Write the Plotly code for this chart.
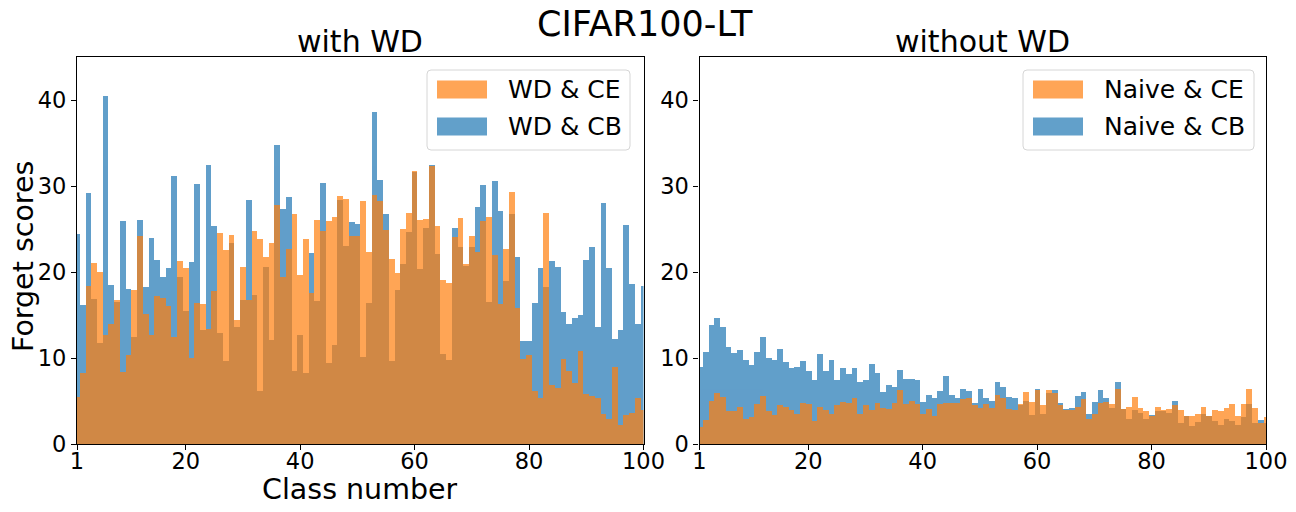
import plotly.graph_objects as go
from plotly.subplots import make_subplots

classes = list(range(1, 101))

wd_cb = [24.4, 16.2, 29.2, 16.9, 11.7, 40.5, 18.5, 16.5, 25.9, 18.0,
         12.4, 26.1, 18.2, 24.0, 21.4, 19.4, 20.5, 31.2, 19.4, 15.5,
         21.2, 30.2, 13.2, 32.4, 25.4, 12.9, 9.7, 23.4, 13.6, 16.8,
         28.4, 17.3, 6.2, 20.6, 12.1, 34.8, 27.3, 28.7, 8.5, 12.7,
         8.3, 22.2, 16.6, 30.4, 9.4, 11.5, 28.4, 23.0, 25.8, 25.6,
         10.1, 16.4, 38.6, 30.7, 26.8, 9.7, 17.9, 20.9, 24.7, 31.6,
         20.4, 25.1, 32.4, 22.1, 10.5, 9.8, 25.1, 22.9, 20.7, 22.9,
         27.6, 30.1, 16.5, 30.6, 27.1, 19.0, 26.8, 21.8, 12.0, 12.0,
         16.4, 20.5, 18.2, 21.3, 20.6, 15.4, 13.9, 14.7, 15.0, 21.4,
         22.9, 13.6, 28.0, 20.5, 12.2, 13.2, 25.5, 18.6, 13.9, 18.4]

wd_ce = [5.5, 8.3, 18.4, 21.1, 20.0, 12.7, 14.0, 16.8, 8.4, 10.4,
         17.9, 24.2, 15.1, 12.7, 17.2, 17.0, 16.1, 12.4, 21.3, 20.5,
         10.0, 16.4, 16.3, 13.4, 17.8, 24.5, 22.6, 24.3, 14.4, 20.6,
         16.7, 24.8, 23.8, 21.8, 23.4, 27.8, 19.4, 22.7, 26.8, 19.7,
         23.8, 17.6, 26.1, 24.8, 25.9, 26.4, 28.8, 28.5, 24.2, 24.2,
         28.3, 22.3, 29.0, 28.3, 24.9, 21.5, 19.9, 25.0, 26.9, 31.7,
         26.1, 26.2, 32.3, 25.4, 19.1, 18.7, 24.1, 26.3, 20.9, 24.2,
         22.3, 25.9, 26.4, 22.0, 16.3, 22.7, 29.3, 15.8, 9.9, 10.3,
         6.2, 5.3, 26.9, 6.9, 6.5, 9.9, 8.5, 7.1, 10.8, 5.8,
         5.6, 5.4, 3.5, 2.9, 9.0, 2.2, 3.4, 3.6, 5.3, 3.9]

naive_cb = [9.0, 10.7, 13.8, 14.6, 13.6, 11.3, 10.6, 10.9, 9.8, 9.2,
            10.7, 12.4, 10.0, 9.8, 11.0, 9.5, 8.8, 8.9, 9.7, 8.5,
            7.5, 10.5, 8.5, 9.8, 7.5, 8.8, 8.1, 8.8, 7.2, 7.4,
            9.3, 8.2, 6.0, 6.9, 6.6, 8.6, 7.6, 7.6, 7.4, 4.9,
            5.7, 5.3, 6.2, 7.9, 5.7, 5.4, 6.4, 6.2, 4.8, 6.4,
            5.3, 5.0, 7.2, 6.6, 5.5, 5.4, 4.5, 5.0, 3.4, 6.4,
            3.5, 5.9, 6.3, 4.8, 4.1, 4.2, 5.6, 6.0, 3.5, 4.9,
            6.3, 5.4, 4.2, 7.2, 4.1, 2.9, 3.9, 3.6, 2.9, 3.4,
            3.8, 3.8, 3.6, 5.0, 2.5, 3.2, 2.1, 2.6, 3.5, 3.2,
            2.7, 2.2, 2.9, 2.7, 2.2, 3.1, 4.6, 2.5, 2.8, 2.5]

naive_ce = [2.0, 2.8, 5.0, 5.9, 5.5, 3.8, 3.8, 4.3, 2.9, 3.1,
            4.7, 5.6, 3.8, 3.4, 4.5, 4.3, 3.9, 3.5, 4.8, 4.6,
            2.7, 4.3, 3.9, 3.5, 4.5, 4.9, 4.8, 5.4, 3.5, 4.5,
            4.0, 4.8, 4.2, 4.1, 4.8, 6.3, 4.7, 5.0, 4.7, 3.5,
            4.1, 3.3, 4.7, 4.8, 4.8, 4.8, 5.2, 5.3, 4.5, 4.2,
            4.7, 4.2, 5.7, 5.4, 4.1, 3.9, 4.6, 6.1, 4.9, 6.3,
            4.5, 6.3, 5.9, 4.5, 3.9, 3.9, 4.3, 5.2, 2.9, 3.5,
            4.8, 4.9, 4.7, 6.4, 4.1, 4.3, 5.5, 4.2, 3.8, 3.2,
            4.3, 3.9, 4.1, 4.5, 3.9, 3.3, 3.3, 3.5, 4.3, 3.3,
            3.9, 3.8, 4.2, 4.6, 3.2, 4.6, 6.4, 4.2, 2.5, 3.1]

x_ticks = [1, 20, 40, 60, 80, 100]
y_ticks = [0, 10, 20, 30, 40]

BLUE = "#1f77b4"
ORANGE = "#ff7f0e"
FONT = "DejaVu Sans"

# page body has an 8px margin; size the figure so it fits the window
OX, OY = 8, 8
W, H = 1280, 496
L, T = 69, 49
PW, PH = 1189, 387
R = W - L - PW
B = H - T - PH


def px(x):
    return (x - OX - L) / PW


def py(y):
    return (T + PH - (y - OY)) / PH


fig = make_subplots(rows=1, cols=2, horizontal_spacing=56 / PW)

for col, blue_vals, orange_vals in [(1, wd_cb, wd_ce), (2, naive_cb, naive_ce)]:
    fig.add_trace(go.Bar(x=classes, y=blue_vals, width=1,
                         marker=dict(color=BLUE, line=dict(width=0)),
                         opacity=0.7, showlegend=False), row=1, col=col)
    fig.add_trace(go.Bar(x=classes, y=orange_vals, width=1,
                         marker=dict(color=ORANGE, line=dict(width=0)),
                         opacity=0.7, showlegend=False), row=1, col=col)

axis_common = dict(showline=True, mirror=True, linecolor="black", linewidth=1.1,
                   ticks="outside", ticklen=5, tickwidth=1.1, tickcolor="black",
                   showgrid=False, zeroline=False, automargin=False,
                   tickfont=dict(family=FONT, size=22.5, color="black"))

fig.update_xaxes(range=[1, 100], tickvals=x_ticks, ticktext=[str(t) for t in x_ticks],
                 ticklabelstandoff=-8, **axis_common)
fig.update_yaxes(range=[0, 45], tickvals=y_ticks, ticktext=[str(t) for t in y_ticks],
                 **axis_common)

annotations = [
    dict(text="CIFAR100-LT", x=px(645), y=py(24), font=dict(size=35), height=34),
    dict(text="with WD", x=px(360), y=py(41), font=dict(size=30)),
    dict(text="without WD", x=px(982.5), y=py(41), font=dict(size=30)),
    dict(text="Class number", x=px(360), y=py(489), font=dict(size=28.5), height=28),
    dict(text="Forget scores", x=px(24), y=py(257), font=dict(size=28.5), textangle=-90),
]

shapes = []


def add_legend(x0, x1, labels):
    y0, y1 = 70, 150
    r = 4
    rx, ry = r / PW, r / PH
    X0, X1, Y0, Y1 = px(x0), px(x1), py(y0), py(y1)
    path = (f"M {X0+rx},{Y0} L {X1-rx},{Y0} Q {X1},{Y0} {X1},{Y0-ry} "
            f"L {X1},{Y1+ry} Q {X1},{Y1} {X1-rx},{Y1} L {X0+rx},{Y1} "
            f"Q {X0},{Y1} {X0},{Y1+ry} L {X0},{Y0-ry} Q {X0},{Y0} {X0+rx},{Y0} Z")
    shapes.append(dict(type="path", path=path, xref="paper", yref="paper",
                       line=dict(color="#d6d6d6", width=1), fillcolor="rgba(255,255,255,0.8)"))
    for (label, color), yc in zip(labels, [89.5, 126.5]):
        shapes.append(dict(type="rect", xref="paper", yref="paper",
                           x0=px(x0 + 10), x1=px(x0 + 60), y0=py(yc - 9), y1=py(yc + 9),
                           line=dict(width=0), fillcolor=color, opacity=0.7))
        annotations.append(dict(text=label, x=px(x0 + 79), y=py(yc), xanchor="left",
                                font=dict(size=25)))


add_legend(427, 630, [("WD &amp; CE", ORANGE), ("WD &amp; CB", BLUE)])
add_legend(1023, 1254, [("Naive &amp; CE", ORANGE), ("Naive &amp; CB", BLUE)])

for a in annotations:
    a.setdefault("xref", "paper")
    a.setdefault("yref", "paper")
    a.setdefault("showarrow", False)
    a.setdefault("xanchor", "center")
    a.setdefault("yanchor", "middle")
    a["font"] = dict(family=FONT, color="black", **a["font"])

fig.update_layout(
    width=W, height=H, barmode="overlay", bargap=0,
    margin=dict(l=L, r=R, t=T, b=B),
    plot_bgcolor="white", paper_bgcolor="white",
    annotations=annotations, shapes=shapes,
    font=dict(family=FONT, color="black"),
)

fig.write_html("out.html")
